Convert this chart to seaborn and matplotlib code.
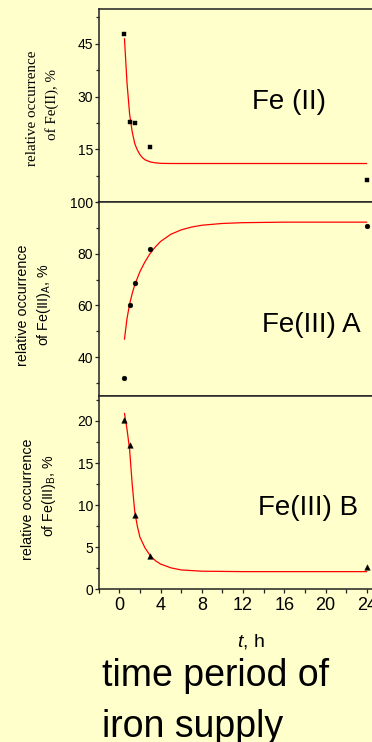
import matplotlib
matplotlib.use("Agg")
import matplotlib.pyplot as plt
from matplotlib.ticker import MultipleLocator
import seaborn as sns

# sampling times (h) and measured relative occurrences (%)
hours = [0.5, 1.0, 1.5, 3.0, 24.0]
fe2 = [47.8, 22.8, 22.5, 15.6, 6.3]
fe3a = [32.0, 60.0, 68.7, 81.8, 91.0]
fe3b = [20.1, 17.1, 8.8, 4.0, 2.6]

# fitted curves
fe2_fit_t = [0.5, 0.75, 1.0, 1.25, 1.5, 1.75, 2.0, 2.25, 2.5, 3.0, 3.5, 4.0, 5.0, 6.0, 8.0, 12.0, 24.0]
fe2_fit = [46.5, 33.8, 25.0, 20.0, 16.6, 14.8, 13.5, 12.6, 12.0, 11.4, 11.15, 11.0, 10.95, 10.95, 10.95, 10.95, 10.95]

fe3a_fit_t = [0.5, 0.75, 1.0, 1.25, 1.5, 2.0, 2.5, 3.0, 3.5, 4.0, 5.0, 6.0, 7.0, 8.0, 10.0, 12.0, 16.0, 24.0]
fe3a_fit = [46.9, 55.0, 60.5, 64.6, 68.0, 73.1, 77.0, 80.2, 82.7, 84.8, 87.6, 89.3, 90.4, 91.1, 91.8, 92.1, 92.3, 92.3]

fe3b_fit_t = [0.5, 0.75, 1.0, 1.25, 1.5, 1.75, 2.0, 2.5, 3.0, 3.5, 4.0, 5.0, 6.0, 8.0, 12.0, 24.0]
fe3b_fit = [20.9, 19.0, 16.6, 12.5, 9.2, 7.5, 6.2, 4.9, 4.0, 3.4, 3.0, 2.55, 2.3, 2.15, 2.1, 2.1]

x_ticks = [0, 4, 8, 12, 16, 20, 24]
panel_titles = ["Fe (II)", "Fe(III) A", "Fe(III) B"]

BG = "#FFFFCC"
SPINE = "#222222"

sns.set_theme(style="ticks")
plt.rcParams["font.family"] = ["Liberation Sans", "DejaVu Sans"]
plt.rcParams["text.color"] = "black"
plt.rcParams["mathtext.fontset"] = "custom"
plt.rcParams["mathtext.rm"] = "Liberation Sans"
plt.rcParams["mathtext.it"] = "Liberation Sans:italic"

W, H = 372, 742
fig = plt.figure(figsize=(W / 100, H / 100), dpi=100, facecolor=BG)


def px_axes(top, bottom):
    left = 119.3 - 2 * 10.31   # x runs from -2 to 26
    right = 119.3 + 26 * 10.31
    return fig.add_axes([left / W, 1 - bottom / H, (right - left) / W, (bottom - top) / H])


ax1 = px_axes(8.7, 202.0)
ax2 = px_axes(202.3, 395.7)
ax3 = px_axes(395.7, 589.3)

panels = [
    (ax1, fe2, fe2_fit_t, fe2_fit, "s", 12, (0, 55), [15, 30, 45], 7.5),
    (ax2, fe3a, fe3a_fit_t, fe3a_fit, "o", 12, (25, 100), [40, 60, 80, 100], 10),
    (ax3, fe3b, fe3b_fit_t, fe3b_fit, "^", 16, (0, 23), [0, 5, 10, 15, 20], 2.5),
]

for ax, yv, ft, fv, mk, ms, ylim, yt, ymin in panels:
    ax.set_facecolor(BG)
    sns.lineplot(x=ft, y=fv, ax=ax, color="#FF0000", lw=0.9, sort=False,
                 estimator=None, zorder=2)
    sns.scatterplot(x=hours, y=yv, ax=ax, marker=mk, s=ms, color="black",
                    edgecolor="black", linewidth=0.3, zorder=3, clip_on=False)
    ax.set_xlim(-2, 26)
    ax.set_ylim(*ylim)
    ax.set_yticks(yt)
    ax.yaxis.set_minor_locator(MultipleLocator(ymin))
    ax.set_xticks(x_ticks)
    ax.xaxis.set_minor_locator(MultipleLocator(2))
    ax.tick_params(axis="both", which="both", direction="out", colors=SPINE,
                   width=0.9, labelcolor="black")
    ax.tick_params(axis="y", which="major", length=3.0, pad=1.0, labelsize=10)
    ax.tick_params(axis="y", which="minor", length=2.0)
    ax.tick_params(axis="x", which="both", length=2.6)
    ax.set_xlabel("")
    ax.set_ylabel("")
    for sp in ax.spines.values():
        sp.set_color(SPINE)
        sp.set_linewidth(1.1)

for ax in (ax1, ax2):
    ax.tick_params(axis="x", labelbottom=False)
ax3.tick_params(axis="x", which="major", labelsize=13, pad=3)


def ftext(x, y, s, **kw):
    fig.text(x / W, 1 - y / H, s, **kw)


# panel names
ftext(289, 109.3, panel_titles[0], fontsize=20, ha="center", va="baseline")
ftext(311.7, 332.3, panel_titles[1], fontsize=20, ha="center", va="baseline")
ftext(308.3, 515.0, panel_titles[2], fontsize=20, ha="center", va="baseline")

# y-axis labels
ser = ["Liberation Serif", "DejaVu Serif"]
ftext(32.5, 108, "relative occurrence", fontsize=10.8, family=ser, rotation=90,
      ha="center", va="center")
ftext(52.5, 105, "of Fe(II), %", fontsize=10.8, family=ser, rotation=90,
      ha="center", va="center")
ftext(23, 305, "relative occurrence", fontsize=10.3, rotation=90,
      ha="center", va="center")
ftext(44, 305, r"of Fe(III)$_\mathregular{A}$, %", fontsize=10.3, rotation=90,
      ha="center", va="center")
ftext(28.5, 499, "relative occurrence", fontsize=10.3, rotation=90,
      ha="center", va="center")
ftext(49.5, 496, r"of Fe(III)$_\mathregular{B}$, %", fontsize=10.3, rotation=90,
      ha="center", va="center")

# x-axis label and caption
ftext(250.7, 646.7, r"$\mathit{t}$, h", fontsize=14, ha="center", va="baseline")
ftext(101.7, 686, "time period of", fontsize=27, ha="left", va="baseline")
ftext(101.7, 736.7, "iron supply", fontsize=27, ha="left", va="baseline")

fig.savefig("out.png", dpi=100, facecolor=BG)
